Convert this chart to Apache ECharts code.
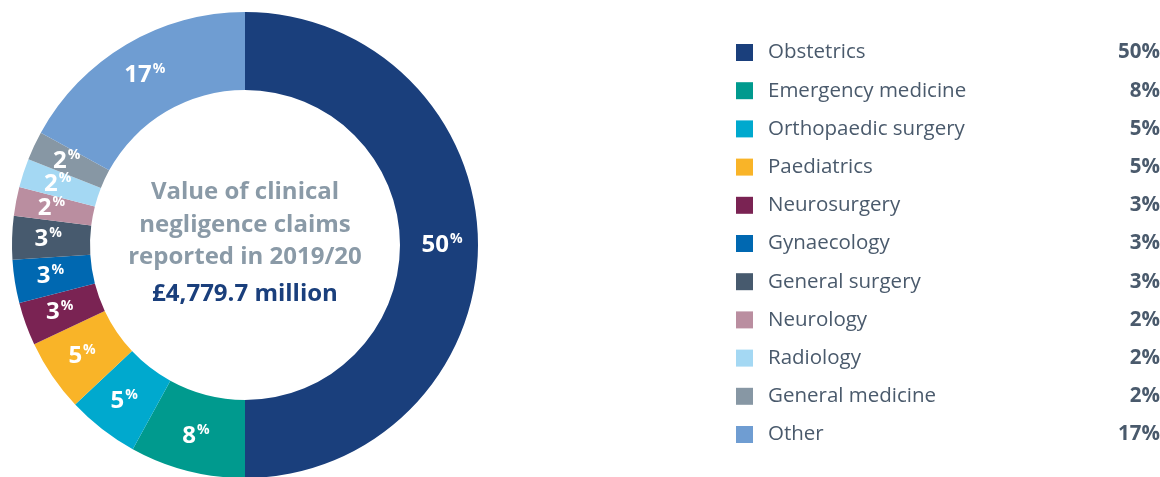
<!DOCTYPE html>
<html>
<head>
<meta charset="utf-8">
<script src="https://cdn.jsdelivr.net/npm/echarts@6/dist/echarts.min.js"></script>
<style>
  html, body { margin: 0; padding: 0; background: #fff; }
  #chart { width: 1160px; height: 477px; }
</style>
</head>
<body>
<div id="chart"></div>
<script>
// 各专科数据
const categories = [
  "Obstetrics", "Emergency medicine", "Orthopaedic surgery", "Paediatrics",
  "Neurosurgery", "Gynaecology", "General surgery", "Neurology",
  "Radiology", "General medicine", "Other"
];
const shares = [50, 8, 5, 5, 3, 3, 3, 2, 2, 2, 17];
const colors = [
  "#1a3f7c", "#009a8e", "#00a9ce", "#f9b428", "#7a2353", "#0068b1",
  "#475a6e", "#ba8ea0", "#a4d8f3", "#8797a4", "#6f9dd2"
];
const centerLines = ["Value of clinical", "negligence claims", "reported in 2019/20"];
const totalLabel = "£4,779.7 million";

const font = "'Open Sans', 'Noto Sans', sans-serif";
const chart = echarts.init(document.getElementById("chart"));

const seriesData = categories.map((name, i) => ({
  name: name,
  value: shares[i],
  itemStyle: { color: colors[i] },
}));

const option = {
  animation: false,
  legend: {
    orient: "vertical",
    left: 736,
    top: 42,
    padding: 0,
    itemWidth: 17,
    itemHeight: 17,
    itemGap: 17.2,
    icon: "rect",
    selectedMode: false,
    data: categories,
    formatter: (name) => {
      const idx = categories.indexOf(name);
      return "{n|" + name + "}{v|" + shares[idx] + "%}";
    },
    textStyle: {
      fontFamily: font,
      rich: {
        n: {
          fontSize: 20.5,
          color: "#4a5a6c",
          width: 330,
          lineHeight: 17,
          padding: [0, 0, 0, 10],
          fontFamily: font,
        },
        v: {
          fontSize: 20.5,
          fontWeight: "bold",
          color: "#4a5a6c",
          width: 62,
          align: "right",
          lineHeight: 17,
          fontFamily: font,
        },
      },
    },
  },
  graphic: [
    {
      type: "text",
      x: 245,
      y: 176,
      style: {
        text: centerLines.join("\n"),
        align: "center",
        fontFamily: font,
        fontSize: 24,
        fontWeight: "bold",
        lineHeight: 32.5,
        fill: "#8a9aa7",
      },
    },
    {
      type: "text",
      x: 245,
      y: 282,
      style: {
        text: totalLabel,
        align: "center",
        fontFamily: font,
        fontSize: 24,
        fontWeight: "bold",
        fill: "#1a3f7c",
      },
    },
  ],
  series: [
    {
      type: "pie",
      center: [245, 245],
      radius: [155, 233],
      startAngle: 90,
      clockwise: true,
      silent: true,
      avoidLabelOverlap: false,
      labelLayout: { hideOverlap: false },
      label: {
        show: true,
        position: "inside",
        formatter: (p) => "{v|" + p.value + "}{p|%}",
        rich: {
          v: {
            fontFamily: font,
            fontSize: 24,
            fontWeight: "bold",
            color: "#fff",
            lineHeight: 26,
          },
          p: {
            fontFamily: font,
            fontSize: 14,
            fontWeight: "bold",
            color: "#fff",
            lineHeight: 26,
            verticalAlign: "top",
            padding: [0, 0, 9, 1],
          },
        },
      },
      labelLine: { show: false },
      data: seriesData,
    },
  ],
};
chart.setOption(option);
</script>
</body>
</html>
